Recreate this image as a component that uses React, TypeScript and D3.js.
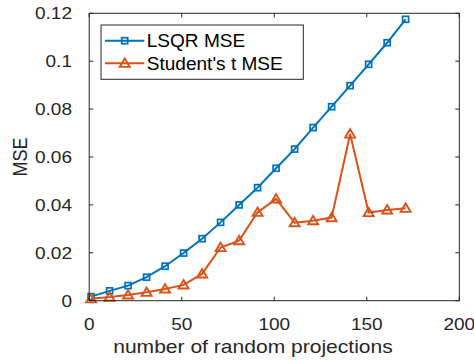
import React, { useRef, useEffect } from 'react';
import * as d3 from 'd3';

// projections count (x) for each measurement
const projections = [1, 11, 21, 31, 41, 51, 61, 71, 81, 91, 101, 111, 121, 131, 141, 151, 161, 171];
const lsqrMse = [0.0017, 0.0041, 0.0063, 0.0098, 0.0144, 0.0199, 0.0259, 0.0327, 0.04, 0.0472, 0.0553, 0.0633, 0.0723, 0.081, 0.0898, 0.0987, 0.1077, 0.1175];
const studentMse = [0.0008, 0.0015, 0.0024, 0.0035, 0.0049, 0.0066, 0.0112, 0.0222, 0.0251, 0.0369, 0.0425, 0.0326, 0.0334, 0.0347, 0.0696, 0.0368, 0.0379, 0.0386];
const xTicks = [0, 50, 100, 150, 200];
const yTicks = [0, 0.02, 0.04, 0.06, 0.08, 0.1, 0.12];
const seriesNames = ['LSQR MSE', "Student's t MSE"];

const BLUE = '#0072BD';
const ORANGE = '#D95319';
const INK = '#262626';
const FONT = 'Liberation Sans, Arial, Helvetica, sans-serif';

// the source figure was stretched sideways, so text is drawn wider than tall
const addText = (parent, px, py, str, opts) => {
  const { size = 16, anchor = 'start', sx = 1, dy = '0', rotate = 0, fill = INK } = opts || {};
  parent.append('g')
    .attr('transform', `translate(${px},${py}) scale(${sx},1) rotate(${rotate})`)
    .append('text')
    .attr('font-family', FONT)
    .attr('font-size', size)
    .attr('fill', fill)
    .attr('text-anchor', anchor)
    .attr('dy', dy)
    .text(str);
};

const App = () => {
  const ref = useRef<SVGSVGElement>(null);

  useEffect(() => {
    const svg = d3.select(ref.current);
    svg.selectAll('*').remove();

    const width = 474;
    const height = 360;
    const margin = { top: 13.3, right: 14.7, bottom: 59.3, left: 89.2 };

    const x = d3.scaleLinear().domain([0, 200]).range([margin.left, width - margin.right]);
    const y = d3.scaleLinear().domain([0, 0.12]).range([height - margin.bottom, margin.top]);

    svg.append('rect').attr('width', width).attr('height', height).attr('fill', '#fff');

    // lines + markers
    const line = d3.line<number>()
      .x((_, i) => x(projections[i]))
      .y(d => y(d));

    const drawSquare = (g, cx, cy) => {
      g.append('rect')
        .attr('x', cx - 3).attr('y', cy - 3)
        .attr('width', 6).attr('height', 6)
        .attr('fill', 'none').attr('stroke', BLUE).attr('stroke-width', 1.7);
    };
    const drawTriangle = (g, cx, cy) => {
      g.append('path')
        .attr('d', `M${cx},${cy - 4.8}L${cx + 5},${cy + 3.6}L${cx - 5},${cy + 3.6}Z`)
        .attr('fill', 'none').attr('stroke', ORANGE).attr('stroke-width', 1.9);
    };

    const plot = svg.append('g');
    plot.append('path').datum(lsqrMse).attr('d', line)
      .attr('fill', 'none').attr('stroke', BLUE).attr('stroke-width', 2);
    lsqrMse.forEach((v, i) => drawSquare(plot, x(projections[i]), y(v)));

    plot.append('path').datum(studentMse).attr('d', line)
      .attr('fill', 'none').attr('stroke', ORANGE).attr('stroke-width', 2);
    studentMse.forEach((v, i) => drawTriangle(plot, x(projections[i]), y(v)));

    // axes box with inward ticks on all sides
    const x0 = margin.left, x1 = width - margin.right;
    const y0 = height - margin.bottom, y1 = margin.top;
    const axes = svg.append('g').attr('stroke', INK).attr('stroke-width', 1);
    axes.append('rect')
      .attr('x', x0).attr('y', y1).attr('width', x1 - x0).attr('height', y0 - y1)
      .attr('fill', 'none');
    xTicks.forEach(t => {
      axes.append('line').attr('x1', x(t)).attr('x2', x(t)).attr('y1', y0).attr('y2', y0 - 4);
      axes.append('line').attr('x1', x(t)).attr('x2', x(t)).attr('y1', y1).attr('y2', y1 + 4);
    });
    yTicks.forEach(t => {
      axes.append('line').attr('x1', x0).attr('x2', x0 + 4).attr('y1', y(t)).attr('y2', y(t));
      axes.append('line').attr('x1', x1).attr('x2', x1 - 4).attr('y1', y(t)).attr('y2', y(t));
    });

    const labels = svg.append('g');
    xTicks.forEach(t => {
      addText(labels, x(t), 329.5, String(t), { size: 17, anchor: 'middle', sx: 1.12 });
    });
    yTicks.forEach(t => {
      addText(labels, 72, y(t), String(t), { size: 17, anchor: 'end', sx: 1.12, dy: '0.35em' });
    });

    addText(labels, 253, 352.5, 'number of random projections', { size: 18, anchor: 'middle', sx: 1.17 });
    addText(labels, 26.5, (y0 + y1) / 2, 'MSE', { size: 18, anchor: 'middle', sx: 1.17, rotate: -90 });

    // legend
    const legend = svg.append('g');
    legend.append('rect')
      .attr('x', 101).attr('y', 25).attr('width', 202.3).attr('height', 54.3)
      .attr('fill', '#fff').attr('stroke', INK).attr('stroke-width', 1);
    const rows = [40.7, 63.3];
    seriesNames.forEach((name, i) => {
      const color = i === 0 ? BLUE : ORANGE;
      legend.append('line')
        .attr('x1', 105).attr('x2', 144.3).attr('y1', rows[i]).attr('y2', rows[i])
        .attr('stroke', color).attr('stroke-width', 2);
      if (i === 0) drawSquare(legend, 124.7, rows[i]);
      else drawTriangle(legend, 124.7, rows[i]);
      addText(legend, 146.7, rows[i], name, { size: 18, sx: 1.06, dy: '0.35em', fill: '#000' });
    });
  }, []);

  return (
    <svg
      ref={ref}
      width={474}
      height={360}
      style={{ position: 'absolute', left: 0, top: 0, display: 'block' }}
    />
  );
};

export default App;
